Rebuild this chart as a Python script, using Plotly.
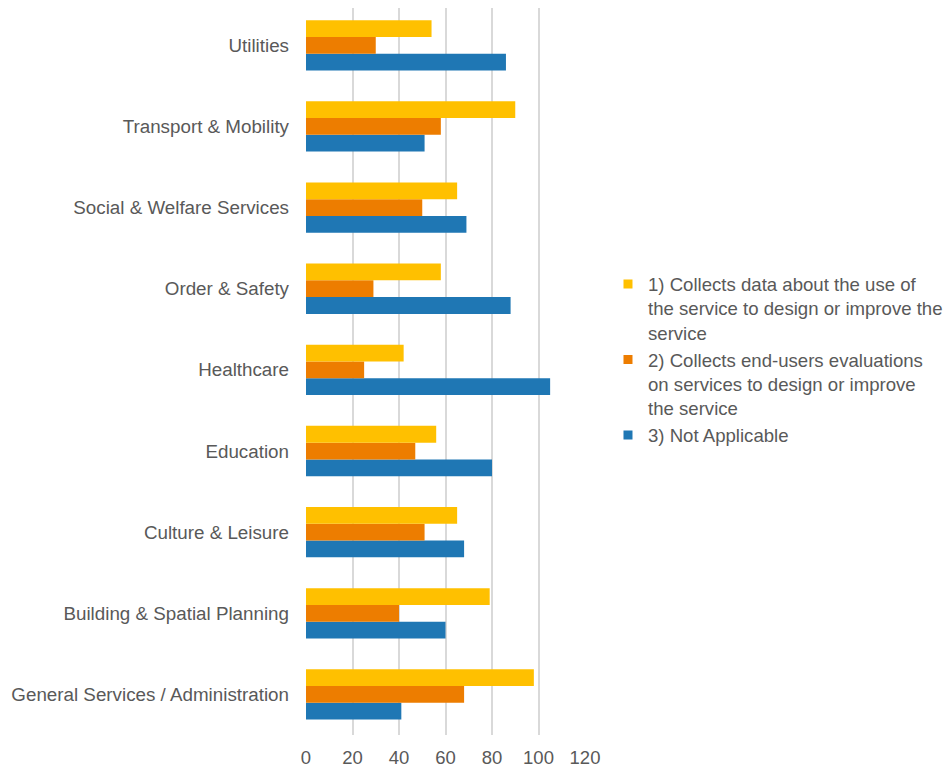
import plotly.graph_objects as go

categories = ["General Services / Administration", "Building & Spatial Planning", "Culture & Leisure",
              "Education", "Healthcare", "Order & Safety", "Social & Welfare Services",
              "Transport & Mobility", "Utilities"]
collects_usage = [98, 79, 65, 56, 42, 58, 65, 90, 54]
collects_evals = [68, 40, 51, 47, 25, 29, 50, 58, 30]
not_applicable = [41, 60, 68, 80, 105, 88, 69, 51, 86]

names = ["1) Collects data about the use of<br>the service to design or improve the<br>service",
         "2) Collects end-users evaluations<br>on services to design or improve<br>the service",
         "3) Not Applicable"]
colors = ["#FFC000", "#ED7D00", "#1F77B4"]
x_ticks = [0, 20, 40, 60, 80, 100, 120]

fig = go.Figure()
series = [(not_applicable, names[2], colors[2]),
          (collects_evals, names[1], colors[1]),
          (collects_usage, names[0], colors[0])]
for vals, name, col in series:
    fig.add_trace(go.Bar(y=categories, x=vals, orientation="h", name=name, showlegend=False,
                         marker=dict(color=col, line=dict(width=0))))
# legend entries with small square swatches
for vals, name, col in series:
    fig.add_trace(go.Scatter(x=[None], y=[None], mode="markers", name=name,
                             marker=dict(symbol="square", size=9, color=col)))

font_col = "#595959"
fig.update_layout(
    barmode="group", bargap=0.38, bargroupgap=0,
    width=951, height=771,
    margin=dict(l=298, r=374, t=0, b=44, autoexpand=False),
    plot_bgcolor="white", paper_bgcolor="white",
    font=dict(family="Liberation Sans, Arial, sans-serif", size=18, color=font_col),
    xaxis=dict(range=[0, 120], tickvals=x_ticks, showgrid=True, gridcolor="#d9d9d9", gridwidth=1.5,
               zeroline=False, showline=False, ticks="", automargin=False, ticklabelstandoff=9,
               tickfont=dict(size=18.5, color=font_col)),
    yaxis=dict(categoryorder="array", categoryarray=categories, range=[-0.5, 8.46],
               showgrid=False, showline=False, automargin=False,
               ticks="", ticklabelstandoff=16, tickfont=dict(size=18.8, color=font_col)),
    legend=dict(x=1.0824, y=0.646, xanchor="left", yanchor="top", traceorder="reversed",
                valign="top", font=dict(size=18.6, color=font_col), itemwidth=30),
)
fig.write_html("out.html")
